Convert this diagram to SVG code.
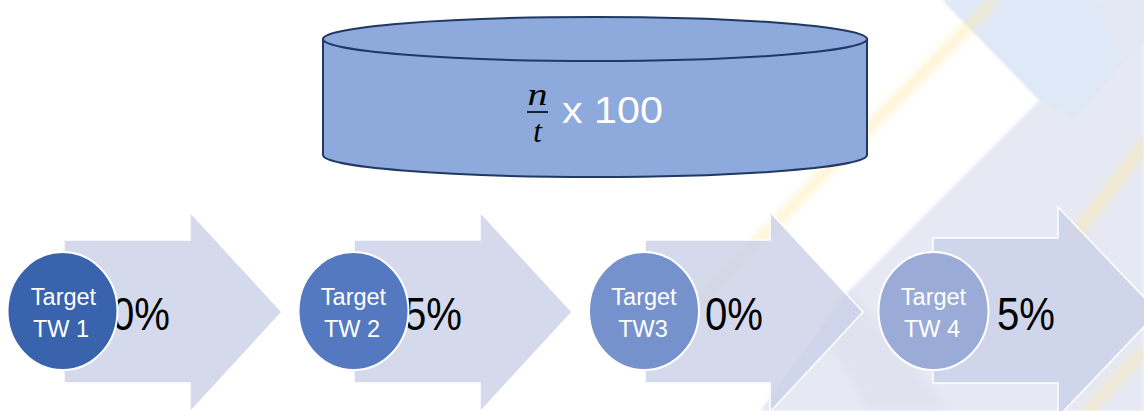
<svg xmlns="http://www.w3.org/2000/svg" width="1144" height="411" viewBox="0 0 1144 411">
  <defs>
    <style>
      .arrow { fill: #C9D0E7; fill-opacity: 0.8; stroke: #FFFFFF; stroke-width: 1.5; }
      .pct { font-family: "Liberation Sans", Arial, sans-serif; font-size: 47px; fill: #000000; text-anchor: end; }
      .tgt { stroke: #FFFFFF; stroke-width: 2; }
      .lbl { font-family: "Liberation Sans", Arial, sans-serif; font-size: 23.5px; fill: #FFFFFF; text-anchor: middle; }
      .cyl { fill: #8EA9DB; stroke: #1F3864; stroke-width: 2; }
    </style>
    <filter id="soft" x="-20%" y="-20%" width="140%" height="140%">
      <feGaussianBlur stdDeviation="4"/>
    </filter>
    <filter id="edge" x="-5%" y="-5%" width="110%" height="110%">
      <feGaussianBlur stdDeviation="1.5"/>
    </filter>
  </defs>

  <!-- background -->
  <rect x="0" y="0" width="1144" height="411" fill="#FFFFFF"/>
  <g id="background">
    <polygon points="943,0 1144,0 1144,411 760,411 850,290 1040,100" fill="#E6E9F3" filter="url(#edge)"/>
    <polygon points="985,0 1144,0 1144,40 1075,118 1040,100 943,0" fill="#DEE8F7" filter="url(#edge)"/>
    <polygon points="1100,0 1144,0 1144,40 1120,68" fill="#E3E8F3" filter="url(#edge)"/>
    <polygon points="820,330 850,290 950,411 870,411" fill="#DEE1EE" opacity="0.7" filter="url(#soft)"/>
    <line x1="995" y1="0" x2="690" y2="310" stroke="#FFE8A6" stroke-width="10" opacity="0.55" filter="url(#soft)"/>
    <line x1="1150" y1="138" x2="1075" y2="235" stroke="#FFE8A6" stroke-width="10" opacity="0.6" filter="url(#soft)"/>
    <line x1="1144" y1="350" x2="1085" y2="415" stroke="#FFE8A6" stroke-width="10" opacity="0.5" filter="url(#soft)"/>
  </g>

  <!-- cylinder -->
  <g id="formula">
    <path class="cyl" d="M323,39 L323,155 A272,22 0 0 0 867,155 L867,39 Z"/>
    <ellipse class="cyl" cx="595" cy="39" rx="272" ry="22"/>
    <text x="537.5" y="105" font-family="Liberation Serif, serif" font-style="italic" font-size="31" fill="#000000" text-anchor="middle" textLength="20" lengthAdjust="spacingAndGlyphs">n</text>
    <line x1="527" y1="112" x2="548" y2="112" stroke="#000000" stroke-width="1.6"/>
    <text x="537.5" y="142" font-family="Liberation Serif, serif" font-style="italic" font-size="31" fill="#000000" text-anchor="middle">t</text>
    <text x="562" y="123" font-family="Liberation Sans, Arial, sans-serif" font-size="36" fill="#FFFFFF" textLength="101" lengthAdjust="spacingAndGlyphs">x 100</text>
  </g>

  <g id="connectors"/>

  <!-- arrows -->
  <g id="step-1">
    <path class="arrow" d="M64,240 H190 V212 L282,312 L190,412 V383 H64 Z"/>
    <text class="pct" x="170" y="330" textLength="58" lengthAdjust="spacingAndGlyphs">0%</text>
  </g>
  <g id="step-2">
    <path class="arrow" d="M354,240 H480 V212 L572,312 L480,412 V383 H354 Z"/>
    <text class="pct" x="462" y="330" textLength="58" lengthAdjust="spacingAndGlyphs">5%</text>
  </g>
  <g id="step-3">
    <path class="arrow" d="M645,240 H770 V212 L863,312 L770,412 V383 H645 Z"/>
    <text class="pct" x="763" y="330" textLength="58" lengthAdjust="spacingAndGlyphs">0%</text>
  </g>
  <g id="step-4">
    <path class="arrow" d="M933,238 H1058 V207 L1158,312 L1058,417 V383 H933 Z"/>
    <text class="pct" x="1055" y="330" textLength="58" lengthAdjust="spacingAndGlyphs">5%</text>
  </g>

  <!-- targets -->
  <g id="target-1">
    <ellipse class="tgt" cx="62.5" cy="311" rx="55" ry="59" fill="#3A63AD"/>
    <text class="lbl" x="63.5" y="305">Target</text>
    <text class="lbl" x="61" y="337">TW 1</text>
  </g>
  <g id="target-2">
    <ellipse class="tgt" cx="353.5" cy="311" rx="55" ry="59" fill="#5479C1"/>
    <text class="lbl" x="353.5" y="305">Target</text>
    <text class="lbl" x="352" y="337">TW 2</text>
  </g>
  <g id="target-3">
    <ellipse class="tgt" cx="644" cy="311" rx="55" ry="59" fill="#7692CD"/>
    <text class="lbl" x="644" y="305">Target</text>
    <text class="lbl" x="643" y="337">TW3</text>
  </g>
  <g id="target-4">
    <ellipse class="tgt" cx="933.5" cy="311" rx="55" ry="59" fill="#9BABD7"/>
    <text class="lbl" x="933.5" y="305">Target</text>
    <text class="lbl" x="932" y="337">TW 4</text>
  </g>
</svg>
